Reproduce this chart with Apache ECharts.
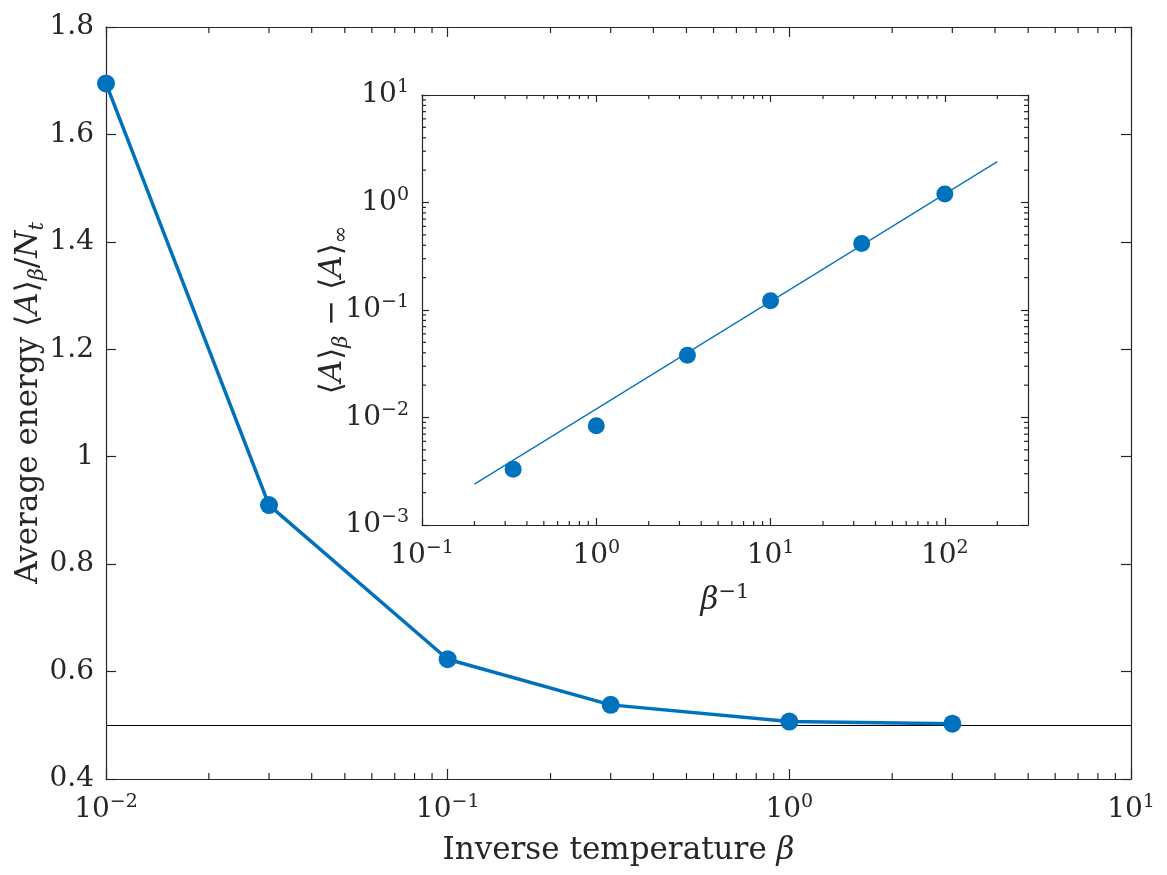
<!DOCTYPE html>
<html>
<head>
<meta charset="utf-8">
<script src="https://cdn.jsdelivr.net/npm/echarts@6/dist/echarts.min.js"></script>
<style>
  html, body { margin: 0; padding: 0; background: #fff; }
  #chart { width: 1167px; height: 875px; }
</style>
</head>
<body>
<div id="chart"></div>
<script>
// main plot: average energy vs inverse temperature
const betaValues = [0.01, 0.03, 0.1, 0.3, 1, 3];
const energyValues = [1.695, 0.910, 0.623, 0.538, 0.507, 0.503];
const groundLevel = 0.5;

// inset: <A>_beta - <A>_inf vs 1/beta
const invBetaValues = [1 / 3, 1, 10 / 3, 10, 100 / 3, 100];
const diffValues = [0.0033, 0.0084, 0.038, 0.122, 0.415, 1.2];
const fitInvBeta = [0.2, 200];
const fitDiff = [0.0024, 2.4];

const blue = '#0072BD';
const axisColor = '#262626';
const font = '"DejaVu Serif", "Liberation Serif", serif';

// minor ticks of a log axis: 2..9 times each decade inside [lo, hi]
function logMinors(lo, hi) {
  const out = [];
  for (let d = Math.floor(Math.log10(lo)); d <= Math.ceil(Math.log10(hi)); d++) {
    for (let k = 2; k <= 9; k++) {
      const v = k * Math.pow(10, d);
      if (v > lo * 1.0001 && v < hi * 0.9999) out.push(v);
    }
  }
  return out;
}

function powLabel(v) {
  const e = Math.log10(v);
  const r = Math.round(e);
  if (Math.abs(e - r) > 1e-6) return '';
  const s = r < 0 ? '\u2212' + (-r) : String(r);
  return '{b|10}{s|' + s + '}';
}

const labelRich = {
  b: { fontFamily: font, fontSize: 28, color: axisColor, lineHeight: 34 },
  s: { fontFamily: font, fontSize: 19, color: axisColor, lineHeight: 19, verticalAlign: 'top' }
};

function axisBase(extra) {
  return Object.assign({
    axisLine: { show: true, lineStyle: { color: axisColor, width: 1.2 } },
    splitLine: { show: false },
    axisLabel: { show: false },
    nameMoveOverlap: false,
    axisTick: { show: true, inside: true, length: 10, lineStyle: { color: axisColor, width: 1.2 } }
  }, extra);
}

const mainX = [0.01, 10];
const mainY = [0.4, 1.8];
const insetX = [0.1, 300];
const insetY = [0.001, 10];

function tickSeries(xi, yi, data, size, offset) {
  return {
    type: 'scatter', xAxisIndex: xi, yAxisIndex: yi, silent: true,
    symbol: 'rect', symbolSize: size, symbolOffset: offset,
    itemStyle: { color: axisColor, opacity: 1 }, data: data, clip: false, z: 1
  };
}

const mainXMinor = logMinors(mainX[0], mainX[1]);
const insetXMinor = logMinors(insetX[0], insetX[1]);
const insetYMinor = logMinors(insetY[0], insetY[1]);

const titleRich = {
  i: { fontFamily: font, fontSize: 31, fontStyle: 'italic', color: axisColor, lineHeight: 38 },
  d: { fontFamily: font, fontSize: 21, fontStyle: 'italic', color: axisColor, lineHeight: 21, verticalAlign: 'bottom' }
};

const option = {
  backgroundColor: '#fff',
  animation: false,
  grid: [
    { left: 106, right: 36, top: 27, bottom: 96, containLabel: false, outerBoundsMode: 'none' },
    { left: 422, right: 139, top: 95, bottom: 350, containLabel: false, outerBoundsMode: 'none',
      show: true, backgroundColor: '#fff', borderWidth: 0 }
  ],
  xAxis: [
    axisBase({
      type: 'log', logBase: 10, gridIndex: 0, min: mainX[0], max: mainX[1], position: 'bottom',
      axisLabel: { show: true, margin: 14, formatter: powLabel, rich: labelRich },
      name: 'Inverse temperature {i|\u03b2}', nameLocation: 'middle', nameGap: 53,
      nameTextStyle: { fontFamily: font, fontSize: 31, color: axisColor, lineHeight: 38, rich: titleRich }
    }),
    axisBase({ type: 'log', logBase: 10, gridIndex: 0, min: mainX[0], max: mainX[1], position: 'top' }),
    axisBase({
      type: 'log', logBase: 10, gridIndex: 1, min: insetX[0], max: insetX[1], position: 'bottom',
      axisTick: { show: true, inside: true, length: 7, lineStyle: { color: axisColor, width: 1.2 } },
      axisLabel: { show: true, margin: 14, formatter: powLabel, rich: labelRich, showMaxLabel: false },
      name: '{i|\u03b2}{s|\u22121}', nameLocation: 'middle', nameGap: 57,
      nameTextStyle: { rich: {
        i: { fontFamily: font, fontSize: 31, fontStyle: 'italic', color: axisColor, lineHeight: 38 },
        s: { fontFamily: font, fontSize: 21, color: axisColor, lineHeight: 21, verticalAlign: 'top' } } }
    }),
    axisBase({
      type: 'log', logBase: 10, gridIndex: 1, min: insetX[0], max: insetX[1], position: 'top',
      axisTick: { show: true, inside: true, length: 7, lineStyle: { color: axisColor, width: 1.2 } }
    })
  ],
  yAxis: [
    axisBase({
      type: 'value', gridIndex: 0, min: mainY[0], max: mainY[1], interval: 0.2, position: 'left',
      axisLabel: { show: true, margin: 12, fontFamily: font, fontSize: 28, color: axisColor },
      name: 'Average energy \u27e8{i|A}\u27e9{d|\u03b2}/{i|N}{d|t}', nameLocation: 'middle', nameGap: 58,
      nameTextStyle: { fontFamily: font, fontSize: 31, color: axisColor, lineHeight: 38, rich: titleRich }
    }),
    axisBase({ type: 'value', gridIndex: 0, min: mainY[0], max: mainY[1], interval: 0.2, position: 'right' }),
    axisBase({
      type: 'log', logBase: 10, gridIndex: 1, min: insetY[0], max: insetY[1], position: 'left',
      axisTick: { show: true, inside: true, length: 7, lineStyle: { color: axisColor, width: 1.2 } },
      axisLabel: { show: true, margin: 13, formatter: powLabel, rich: labelRich },
      name: '\u27e8{i|A}\u27e9{d|\u03b2} \u2212 \u27e8{i|A}\u27e9{d|\u221e}', nameLocation: 'middle', nameGap: 70,
      nameTextStyle: { fontFamily: font, fontSize: 31, color: axisColor, lineHeight: 38, rich: titleRich }
    }),
    axisBase({
      type: 'log', logBase: 10, gridIndex: 1, min: insetY[0], max: insetY[1], position: 'right',
      axisTick: { show: true, inside: true, length: 7, lineStyle: { color: axisColor, width: 1.2 } }
    })
  ],
  series: [
    {
      type: 'line', xAxisIndex: 0, yAxisIndex: 0, z: 5,
      data: betaValues.map((b, i) => [b, energyValues[i]]),
      symbol: 'circle', symbolSize: 18,
      lineStyle: { color: blue, width: 3.5 }, itemStyle: { color: blue },
      markLine: {
        silent: true, symbol: 'none', label: { show: false },
        lineStyle: { color: '#000', width: 1.2, type: 'solid' },
        data: [{ yAxis: groundLevel }]
      }
    },
    {
      type: 'line', xAxisIndex: 2, yAxisIndex: 2, z: 5,
      data: fitInvBeta.map((b, i) => [b, fitDiff[i]]),
      symbol: 'none', lineStyle: { color: blue, width: 1.2 }
    },
    {
      type: 'scatter', xAxisIndex: 2, yAxisIndex: 2, z: 6,
      data: invBetaValues.map((b, i) => [b, diffValues[i]]),
      symbol: 'circle', symbolSize: 17, itemStyle: { color: blue, opacity: 1 }
    },
    // minor ticks (MATLAB style, inside, on all sides)
    tickSeries(0, 0, mainXMinor.map(v => [v, mainY[0]]), [1.2, 6], [0, -3]),
    tickSeries(0, 0, mainXMinor.map(v => [v, mainY[1]]), [1.2, 6], [0, 3]),
    tickSeries(2, 2, insetXMinor.map(v => [v, insetY[0]]), [1.2, 4], [0, -2]),
    tickSeries(2, 2, insetXMinor.map(v => [v, insetY[1]]), [1.2, 4], [0, 2]),
    tickSeries(2, 2, insetYMinor.map(v => [insetX[0], v]), [4, 1.2], [2, 0]),
    tickSeries(2, 2, insetYMinor.map(v => [insetX[1], v]), [4, 1.2], [-2, 0])
  ]
};

const chart = echarts.init(document.getElementById('chart'));
chart.setOption(option);
</script>
</body>
</html>
